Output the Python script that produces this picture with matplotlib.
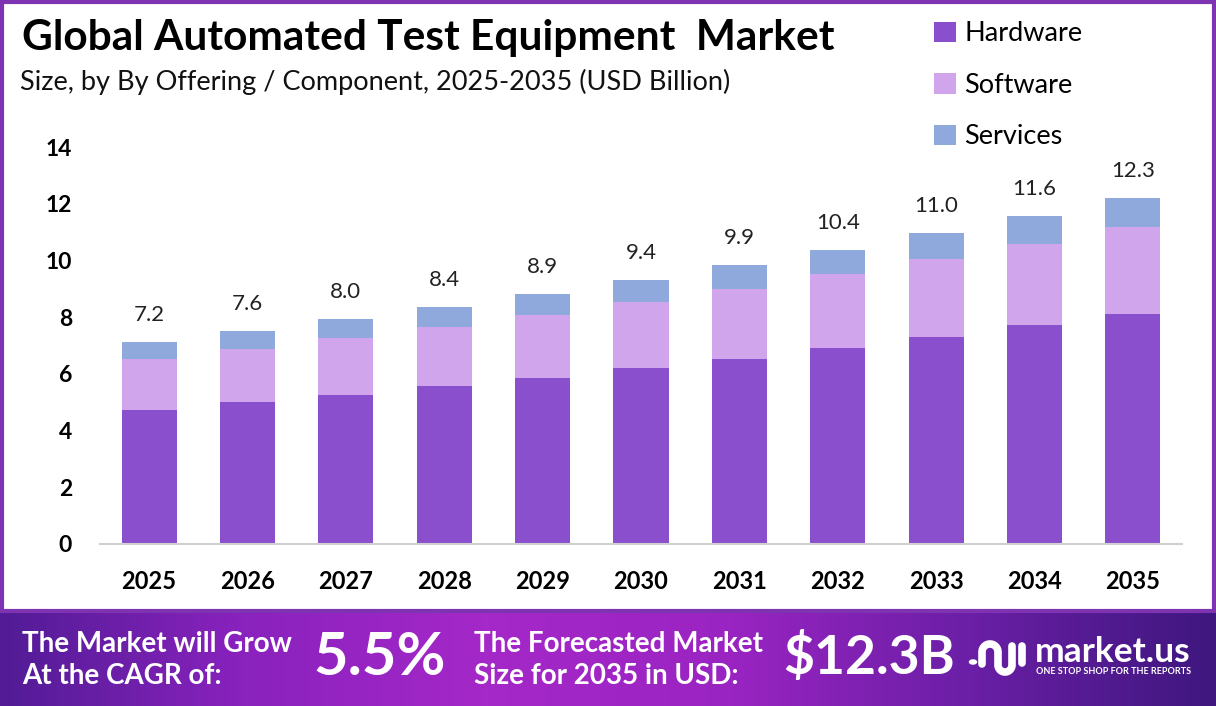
import numpy as np
import matplotlib.pyplot as plt
from matplotlib.colors import LinearSegmentedColormap
from matplotlib.patches import Rectangle, Circle
from matplotlib.lines import Line2D

years = ['2025', '2026', '2027', '2028', '2029', '2030', '2031', '2032', '2033', '2034', '2035']
hardware = [4.72, 5.01, 5.25, 5.57, 5.85, 6.21, 6.52, 6.91, 7.30, 7.72, 8.11]
software = [1.80, 1.87, 2.01, 2.08, 2.22, 2.32, 2.47, 2.61, 2.75, 2.86, 3.07]
services = [0.60, 0.63, 0.67, 0.71, 0.75, 0.78, 0.85, 0.85, 0.92, 0.99, 1.02]
totals = [7.2, 7.6, 8.0, 8.4, 8.9, 9.4, 9.9, 10.4, 11.0, 11.6, 12.3]

c_hw = '#8A4FCC'
c_sw = '#D1A5EB'
c_sv = '#8FA9DC'

plt.rcParams['font.family'] = ['Lato', 'DejaVu Sans']

W, H = 1216, 706
fig = plt.figure(figsize=(W / 100, H / 100), dpi=100)
fig.patch.set_facecolor('white')


def fx(px):
    return px / W


def fy(py):
    return 1 - py / H


# border around chart area
fig.add_artist(Rectangle((fx(1.5), fy(611)), 1212 / W, 609 / H, transform=fig.transFigure,
                         fill=False, edgecolor='#7E34B0', linewidth=3))

# bottom banner gradient
bax = fig.add_axes([0, 0, 1, 94 / H])
cmap = LinearSegmentedColormap.from_list('ban', ['#521C96', '#8A22BE', '#A528C8', '#9A24C2', '#6A1FA6', '#3F177F'])
grad = np.linspace(0, 1, 400).reshape(1, -1)
bax.imshow(grad, aspect='auto', cmap=cmap, extent=[0, 1, 0, 1])
bax.set_xlim(0, 1)
bax.set_ylim(0, 1)
bax.axis('off')

ax = fig.add_axes([fx(100), fy(544), 1082 / W, 397 / H])
x = np.arange(len(years))
bot2 = np.array(hardware) + np.array(software)
ax.bar(x, hardware, width=0.56, color=c_hw, label='Hardware')
ax.bar(x, software, width=0.56, bottom=hardware, color=c_sw, label='Software')
ax.bar(x, services, width=0.56, bottom=bot2, color=c_sv, label='Services')

for i, t in enumerate(totals):
    top = bot2[i] + services[i]
    ax.text(x[i], top + 0.6, f'{t:.1f}', ha='center', va='bottom', fontsize=16, color='#222222')

ax.set_xlim(-0.5, 10.5)
ax.set_ylim(0, 14)
ax.set_yticks(range(0, 15, 2))
ax.set_xticks(x)
ax.set_xticklabels(years, fontsize=17, fontweight='bold')
for lab in ax.get_yticklabels():
    lab.set_fontsize(16.5)
    lab.set_fontweight('bold')
ax.tick_params(axis='both', length=0)
ax.tick_params(axis='x', pad=19)
ax.tick_params(axis='y', pad=20)
for s in ['top', 'right', 'left']:
    ax.spines[s].set_visible(False)
ax.spines['bottom'].set_color('#D0D0D0')
ax.spines['bottom'].set_linewidth(1.5)
ax.patch.set_alpha(0)

fig.text(fx(22), fy(38), 'Global Automated Test Equipment  Market', fontsize=30.5,
         fontweight='bold', va='center', ha='left', color='black')
fig.text(fx(20), fy(82), 'Size, by By Offering / Component, 2025-2035 (USD Billion)', fontsize=19.5,
         va='center', ha='left', color='#111111')

leg = fig.legend(loc='upper left', bbox_to_anchor=(fx(910), fy(-3)), frameon=False,
                 fontsize=19.5, handlelength=0.8, handleheight=0.8, labelspacing=0.98, handletextpad=0.3)

fig.text(fx(22), fy(660), 'The Market will Grow\nAt the CAGR of:', fontsize=20, fontweight='bold',
         color='white', va='center', ha='left', linespacing=1.3)
fig.text(fx(313), fy(658), '5.5%', fontsize=43, fontweight='bold', color='white', va='center', ha='left')
fig.text(fx(474), fy(660), 'The Forecasted Market\nSize for 2035 in USD:', fontsize=20, fontweight='bold',
         color='white', va='center', ha='left', linespacing=1.3)
fig.text(fx(783), fy(658), '$12.3B', fontsize=38.5, fontweight='bold', color='white', va='center', ha='left')

# logo mark
px, py = [], []
px += [982, 982]; py += [664, 652]
th = np.linspace(np.pi, 0, 30)
px += list(990 + 8 * np.cos(th)); py += list(652 - 8 * np.sin(th))
px += [998, 998]; py += [652, 665]
th = np.linspace(np.pi, 2 * np.pi, 30)
px += list(1005 + 7 * np.cos(th)); py += list(665 - 7 * np.sin(th))
px += [1012, 1012]; py += [665, 646]
fig.add_artist(Line2D([fx(p) for p in px], [fy(p) for p in py], transform=fig.transFigure,
                      color='white', linewidth=5.5, solid_capstyle='round', solid_joinstyle='round'))
fig.add_artist(Line2D([fx(1022), fx(1022)], [fy(646), fy(663)], transform=fig.transFigure,
                      color='white', linewidth=5.5, solid_capstyle='round'))
fig.add_artist(Circle((fx(973), fy(662)), 3.5 / W, transform=fig.transFigure, color='white'))

fig.text(fx(1035), fy(652), 'market.us', fontsize=25.5, fontweight='bold', color='white', va='center', ha='left')
fig.text(fx(1036), fy(671), 'ONE STOP SHOP FOR THE REPORTS', fontsize=6.5, fontweight='bold',
         color='white', va='center', ha='left')

fig.savefig('out.png', dpi=100)
